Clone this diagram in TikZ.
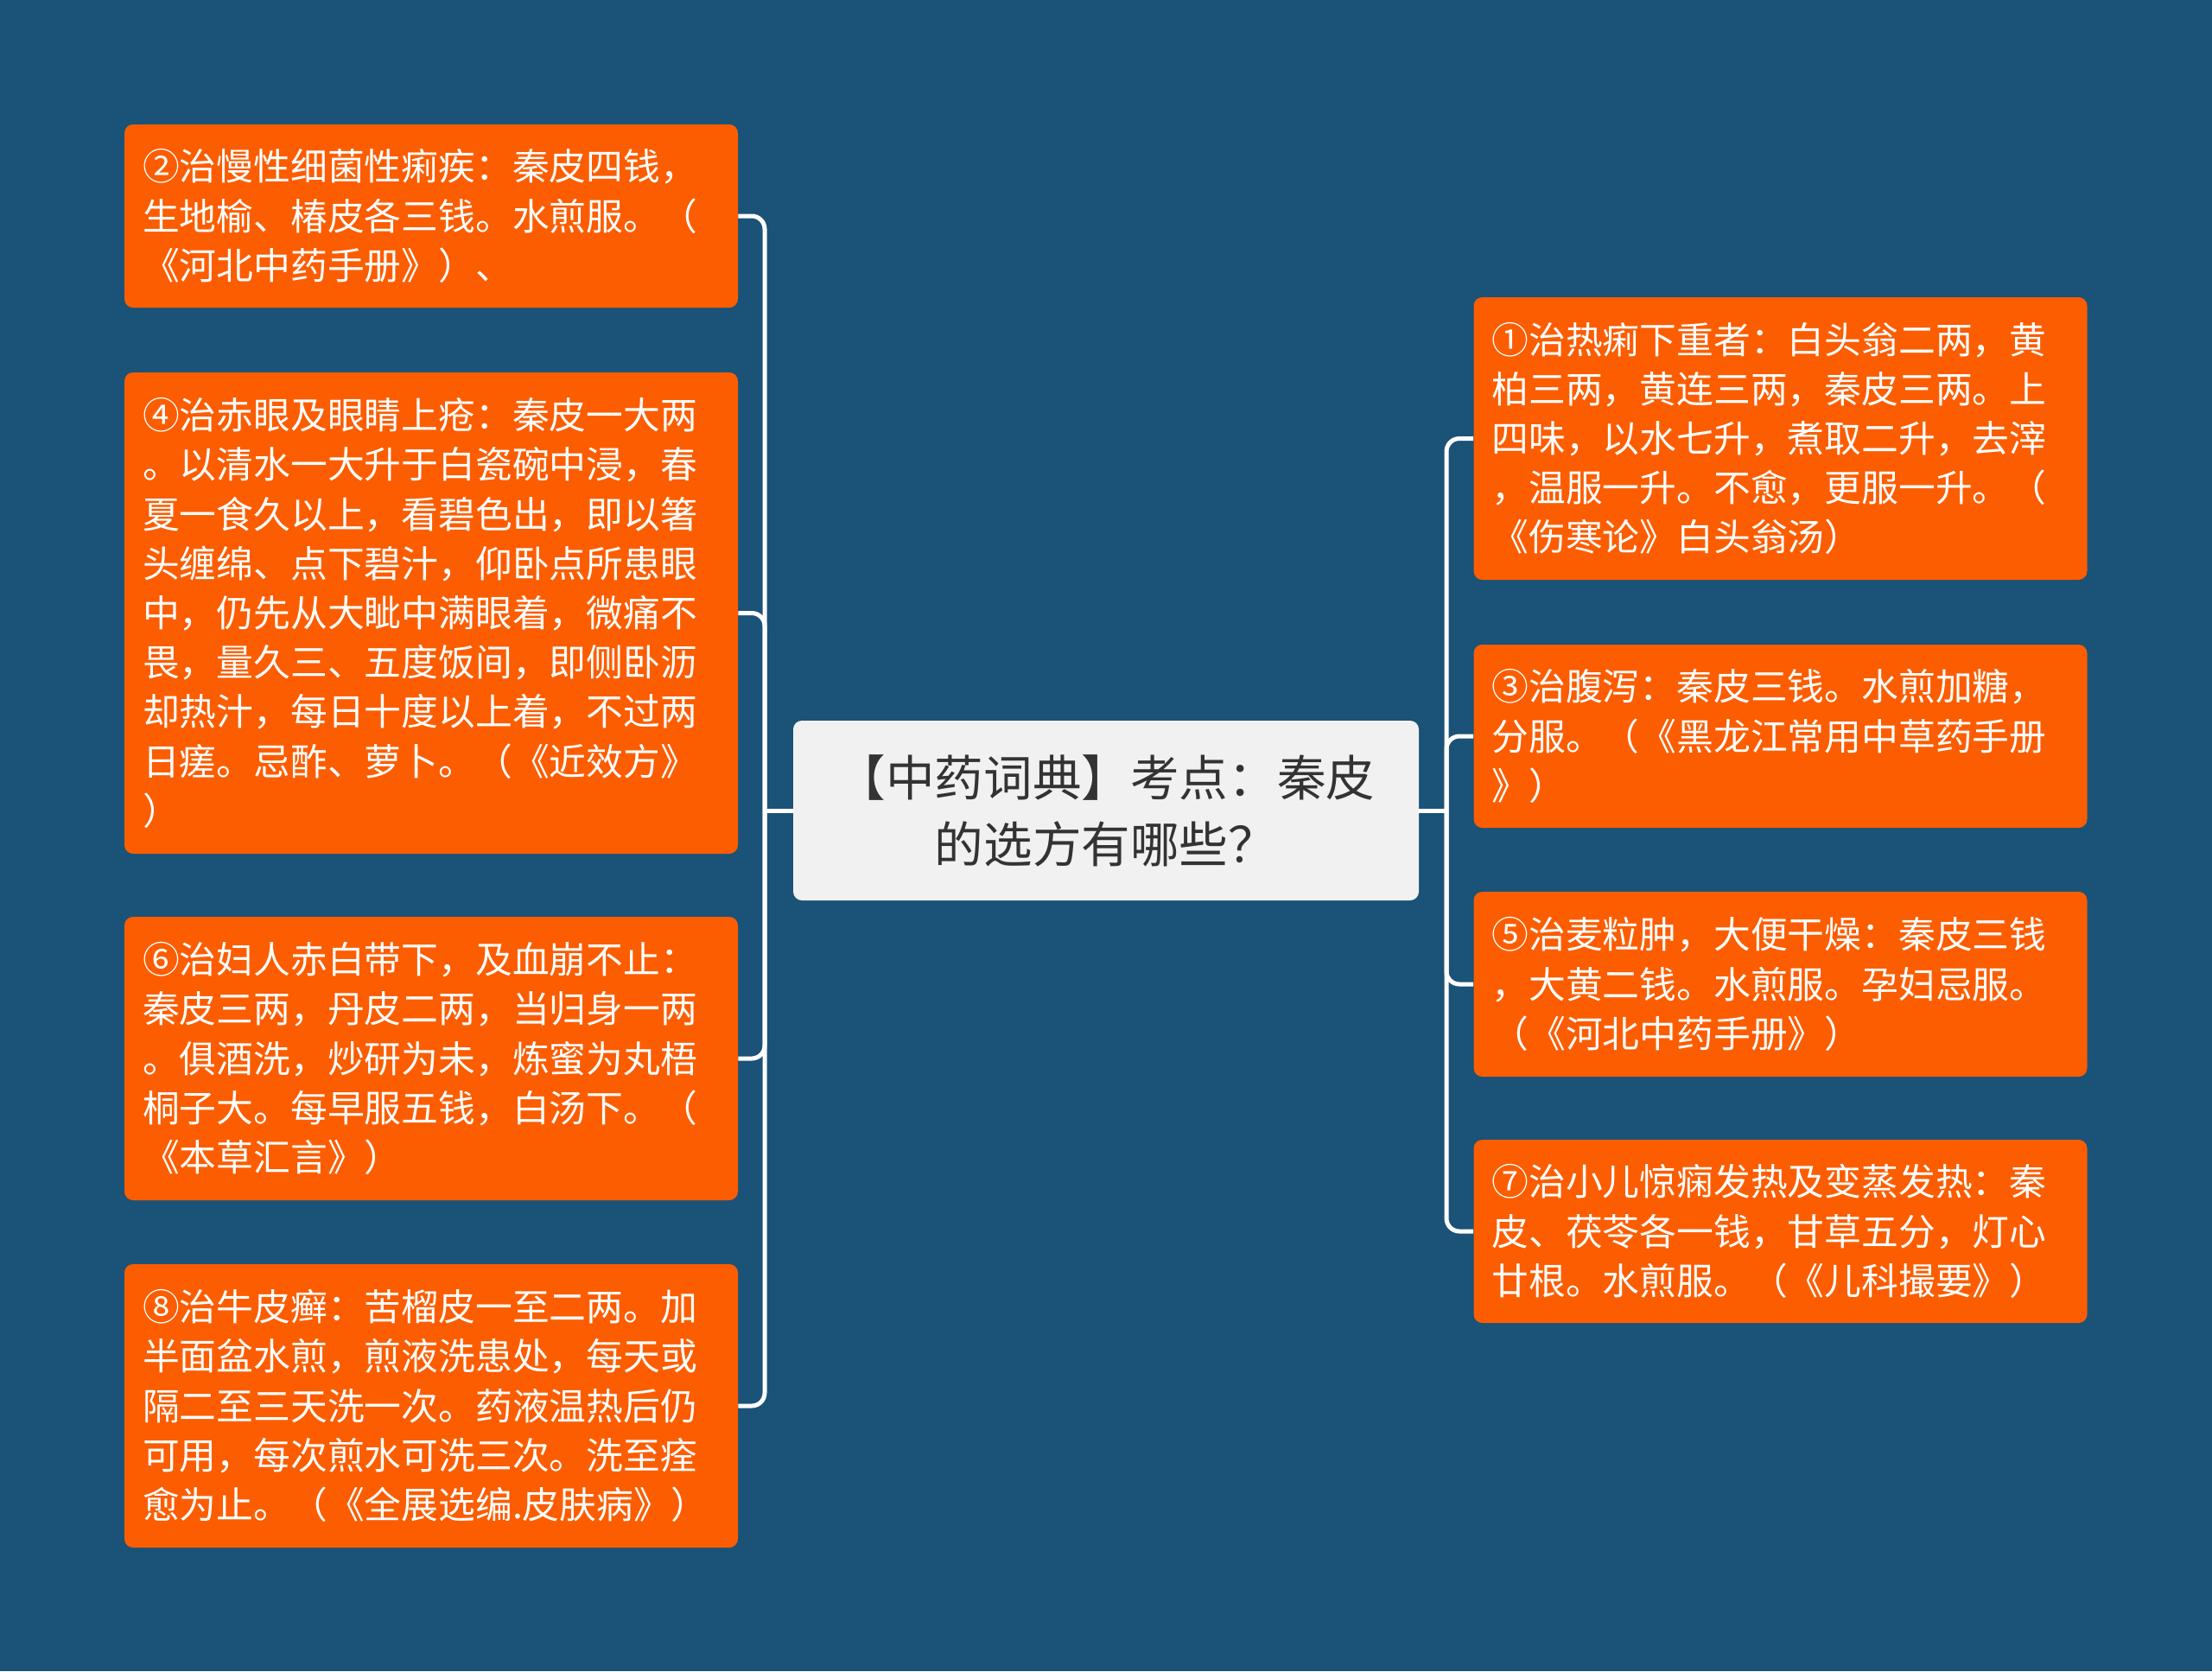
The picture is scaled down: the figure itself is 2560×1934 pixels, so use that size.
\documentclass[tikz,border=0pt]{standalone}
\usepackage{fontspec}
\newfontfamily\cjk{Noto Sans CJK SC}
\definecolor{bgBlue}{HTML}{1B5277}
\definecolor{tipOrange}{HTML}{FC5D00}
\definecolor{hubFill}{HTML}{F1F1F1}
\definecolor{hubText}{HTML}{333333}
\tikzset{
  tip/.style={fill=tipOrange, rounded corners=5pt, text=white, align=left,
              text width=334pt, inner xsep=10.5pt, inner ysep=0pt,
              font=\cjk\fontsize{21.4pt}{28.6pt}\selectfont},
  hub/.style={fill=hubFill, rounded corners=5pt, text=hubText, align=center,
              minimum width=362pt, minimum height=104pt, inner sep=0pt,
              font=\cjk\fontsize{28.3pt}{38.4pt}\selectfont},
  link/.style={draw=white, line width=2.5pt, rounded corners=7.5pt},
}

\begin{document}
\begin{tikzpicture}[x=0.5pt, y=-0.5pt]

%% ── canvas ──────────────────────────────────────────────────────────────
\fill[bgBlue] (0,0) rectangle (2560,1934);

%% ── the topic in the middle ─────────────────────────────────────────────
\node[hub] (root) at (1280,938) {【中药词典】考点：秦皮\\的选方有哪些？};

%% ── left branch ─────────────────────────────────────────────────────────
\node[tip, minimum height=106pt] (l2) at (499,250)
  {②治慢性细菌性痢疾：秦皮四钱，\\
   生地榆、椿皮各三钱。水煎服。（\\
   《河北中药手册》）、};
\node[tip, minimum height=278.5pt] (l4) at (499,709.5)
  {④治赤眼及眼睛上疮：秦皮一大两\\
   。以清水一大升于白瓷碗中浸，春\\
   夏一食久以上，看碧色出，即以箸\\
   头缠绵、点下碧汁，仰卧点所患眼\\
   中，仍先从大眦中满眼着，微痛不\\
   畏，量久三、五度饭间，即侧卧沥\\
   却热汁，每日十度以上着，不过两\\
   日瘥。忌酢、萝卜。（《近效方》\\
   ）};
\node[tip, minimum height=164pt] (l6) at (499,1225)
  {⑥治妇人赤白带下，及血崩不止：\\
   秦皮三两，丹皮二两，当归身一两\\
   。俱酒洗，炒研为未，炼蜜为丸梧\\
   桐子大。每早服五钱，白汤下。（\\
   《本草汇言》）};
\node[tip, minimum height=164pt] (l8) at (499,1627)
  {⑧治牛皮癣：苦榴皮一至二两。加\\
   半面盆水煎，煎液洗患处，每天或\\
   隔二至三天洗一次。药液温热后仍\\
   可用，每次煎水可洗三次。洗至痊\\
   愈为止。（《全展选编.皮肤病》）};

%% ── right branch ────────────────────────────────────────────────────────
\node[tip, minimum height=163.5pt] (r1) at (2060.5,507.5)
  {①治热痢下重者：白头翁二两，黄\\
   柏三两，黄连三两，秦皮三两。上\\
   四味，以水七升，煮取二升，去滓\\
   ，温服一升。不愈，更服一升。（\\
   《伤寒论》白头翁汤）};
\node[tip, minimum height=106pt] (r3) at (2060.5,852)
  {③治腹泻：秦皮三钱。水煎加糖，\\
   分服。（《黑龙江常用中草药手册\\
   》）};
\node[tip, minimum height=107pt] (r5) at (2060.5,1139)
  {⑤治麦粒肿，大便干燥：秦皮三钱\\
   ，大黄二钱。水煎服。孕妇忌服。\\
   （《河北中药手册》）};
\node[tip, minimum height=106pt] (r7) at (2060.5,1425)
  {⑦治小儿惊痫发热及变蒸发热：秦\\
   皮、茯苓各一钱，甘草五分，灯心\\
   廿根。水煎服。（《儿科撮要》）};

%% ── connectors ──────────────────────────────────────────────────────────
\coordinate (jl) at (885,938);
\coordinate (jr) at (1674,938);
\draw[link] (root.west) -- (jl);
\foreach \b in {l2,l4,l6,l8}
  \draw[link] (jl) |- (\b.east);
\draw[link] (root.east) -- (jr);
\foreach \b in {r1,r3,r5,r7}
  \draw[link] (jr) |- (\b.west);

\end{tikzpicture}
\end{document}
